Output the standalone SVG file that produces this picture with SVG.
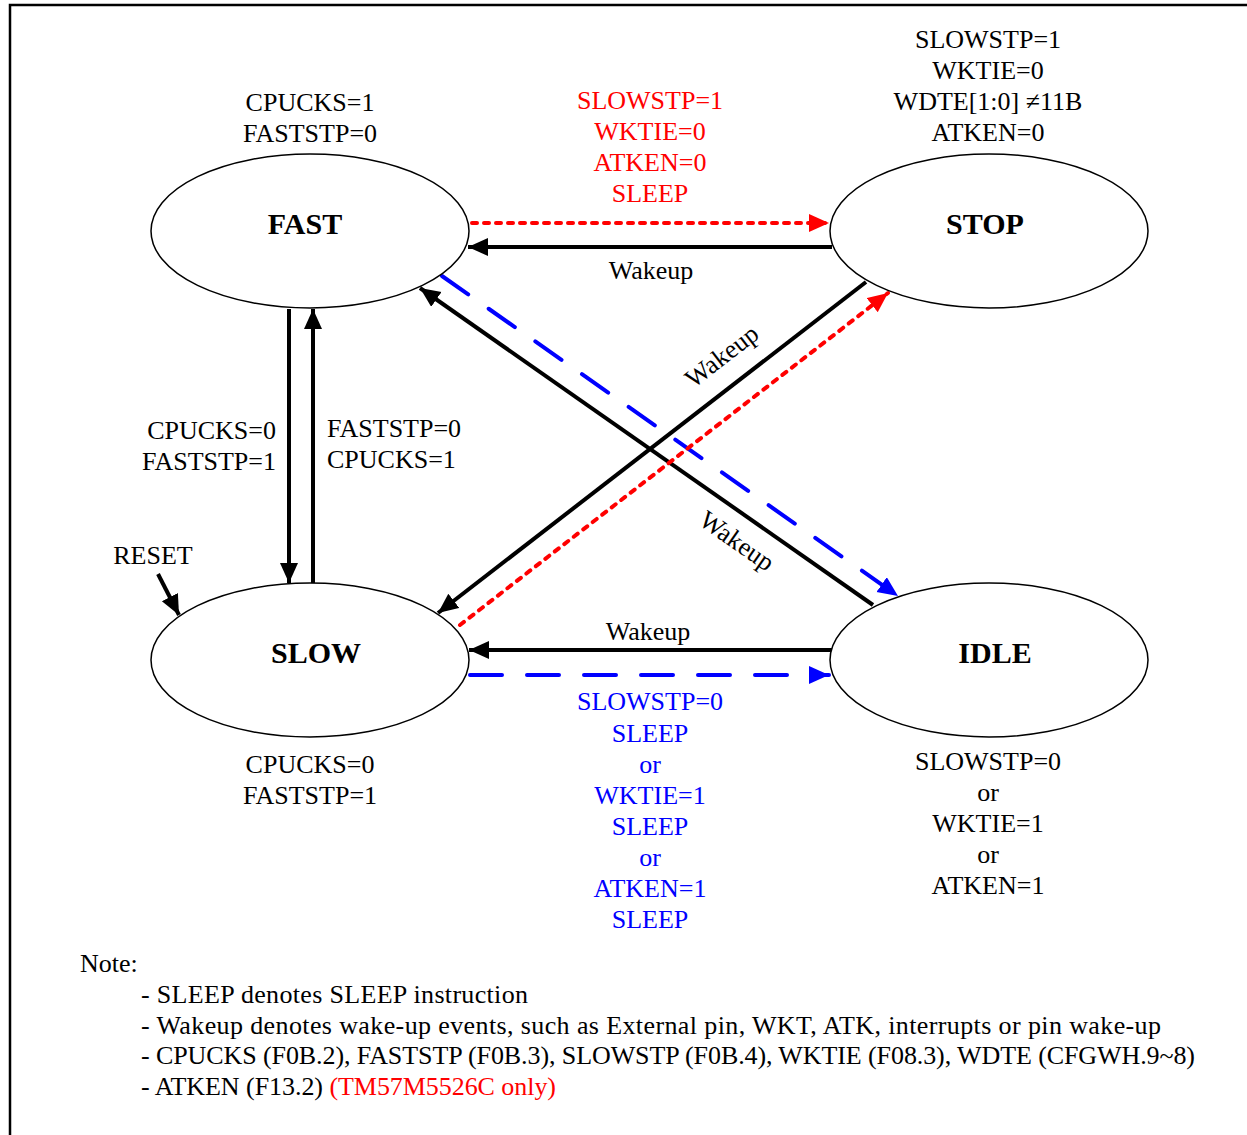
<svg xmlns="http://www.w3.org/2000/svg" width="1247" height="1135" viewBox="0 0 1247 1135">
<style>
text{font-family:"Liberation Serif","Times New Roman",serif;font-size:26px;fill:#000}
.c{text-anchor:middle}
.r{fill:#ff0000}
.b{fill:#0000ff}
.st{font-size:30px;font-weight:bold;text-anchor:middle}
.node ellipse{fill:#fff;stroke:#000;stroke-width:1.5}
.blk{stroke:#000;stroke-width:4;fill:none}
.red{stroke:#ff0000;stroke-width:4;fill:none;stroke-dasharray:5 7;stroke-linecap:round}
.blu{stroke:#0000ff;stroke-width:4;fill:none;stroke-dasharray:32 25;stroke-linecap:round}
</style>
<defs>
<marker id="ak" markerUnits="userSpaceOnUse" markerWidth="22" markerHeight="20" refX="20" refY="9" orient="auto"><path d="M0,0 L20,9 L0,18 z" fill="#000"/></marker>
<marker id="ar" markerUnits="userSpaceOnUse" markerWidth="22" markerHeight="20" refX="20" refY="9" orient="auto"><path d="M0,0 L20,9 L0,18 z" fill="#ff0000"/></marker>
<marker id="ab" markerUnits="userSpaceOnUse" markerWidth="22" markerHeight="20" refX="20" refY="9" orient="auto"><path d="M0,0 L20,9 L0,18 z" fill="#0000ff"/></marker>
</defs>
<rect x="0" y="0" width="1247" height="1135" fill="#fff"/>
<path d="M10,1135 V5 H1247" fill="none" stroke="#000" stroke-width="2.5"/>

<g id="connectors">
<line class="red" x1="472" y1="223" x2="829" y2="223" marker-end="url(#ar)"/>
<line class="blk" x1="832" y1="247" x2="468" y2="247" marker-end="url(#ak)"/>
<line class="blu" x1="442" y1="276" x2="898" y2="596" marker-end="url(#ab)"/>
<line class="blk" x1="873" y1="605" x2="420" y2="288" marker-end="url(#ak)"/>
<line class="blk" x1="866" y1="282" x2="438" y2="613" marker-end="url(#ak)"/>
<line class="red" x1="460" y1="625" x2="888" y2="293" marker-end="url(#ar)"/>
<line class="blk" x1="289" y1="309" x2="289" y2="583" marker-end="url(#ak)"/>
<line class="blk" x1="313" y1="583" x2="313" y2="309" marker-end="url(#ak)"/>
<line class="blk" x1="832" y1="650" x2="469" y2="650" marker-end="url(#ak)"/>
<line class="blu" x1="470" y1="675" x2="829" y2="675" marker-end="url(#ab)"/>
<line class="blk" x1="158" y1="574" x2="179" y2="615" marker-end="url(#ak)"/>
</g>

<g id="node-fast" class="node">
<ellipse cx="310" cy="231" rx="159" ry="77"/>
<text class="st" x="305" y="234">FAST</text>
</g>
<g id="node-stop" class="node">
<ellipse cx="989" cy="231" rx="159" ry="77"/>
<text class="st" x="985" y="234">STOP</text>
</g>
<g id="node-slow" class="node">
<ellipse cx="310" cy="660" rx="159" ry="77"/>
<text class="st" x="316" y="663">SLOW</text>
</g>
<g id="node-idle" class="node">
<ellipse cx="989" cy="660" rx="159" ry="77"/>
<text class="st" x="995" y="663">IDLE</text>
</g>

<g id="labels">
<text class="c" x="310" y="111">CPUCKS=1</text>
<text class="c" x="310" y="142">FASTSTP=0</text>

<text class="c" x="988" y="48">SLOWSTP=1</text>
<text class="c" x="988" y="79">WKTIE=0</text>
<text class="c" x="988" y="110">WDTE[1:0] ≠11B</text>
<text class="c" x="988" y="141">ATKEN=0</text>

<text class="c r" x="650" y="109">SLOWSTP=1</text>
<text class="c r" x="650" y="140">WKTIE=0</text>
<text class="c r" x="650" y="171">ATKEN=0</text>
<text class="c r" x="650" y="202">SLEEP</text>

<text class="c" x="651" y="279">Wakeup</text>
<text class="c" x="0" y="0" transform="translate(727,363) rotate(-37.7)">Wakeup</text>
<text class="c" x="0" y="0" transform="translate(732,548) rotate(35)">Wakeup</text>

<text x="276" y="439" text-anchor="end">CPUCKS=0</text>
<text x="276" y="470" text-anchor="end">FASTSTP=1</text>
<text x="327" y="437">FASTSTP=0</text>
<text x="327" y="468">CPUCKS=1</text>

<text class="c" x="153" y="564">RESET</text>

<text class="c" x="648" y="640">Wakeup</text>

<text class="c b" x="650" y="710">SLOWSTP=0</text>
<text class="c b" x="650" y="742">SLEEP</text>
<text class="c b" x="650" y="773">or</text>
<text class="c b" x="650" y="804">WKTIE=1</text>
<text class="c b" x="650" y="835">SLEEP</text>
<text class="c b" x="650" y="866">or</text>
<text class="c b" x="650" y="897">ATKEN=1</text>
<text class="c b" x="650" y="928">SLEEP</text>

<text class="c" x="310" y="773">CPUCKS=0</text>
<text class="c" x="310" y="804">FASTSTP=1</text>

<text class="c" x="988" y="770">SLOWSTP=0</text>
<text class="c" x="988" y="801">or</text>
<text class="c" x="988" y="832">WKTIE=1</text>
<text class="c" x="988" y="863">or</text>
<text class="c" x="988" y="894">ATKEN=1</text>
</g>

<g id="note">
<text x="80" y="972">Note:</text>
<text x="141" y="1003" textLength="387" lengthAdjust="spacing">- SLEEP denotes SLEEP instruction</text>
<text x="141" y="1034" textLength="1020" lengthAdjust="spacing">- Wakeup denotes wake-up events, such as External pin, WKT, ATK, interrupts or pin wake-up</text>
<text x="141" y="1064" textLength="1054" lengthAdjust="spacing">- CPUCKS (F0B.2), FASTSTP (F0B.3), SLOWSTP (F0B.4), WKTIE (F08.3), WDTE (CFGWH.9~8)</text>
<text x="141" y="1095" textLength="415" lengthAdjust="spacing">- ATKEN (F13.2) <tspan class="r">(TM57M5526C only)</tspan></text>
</g>
</svg>
